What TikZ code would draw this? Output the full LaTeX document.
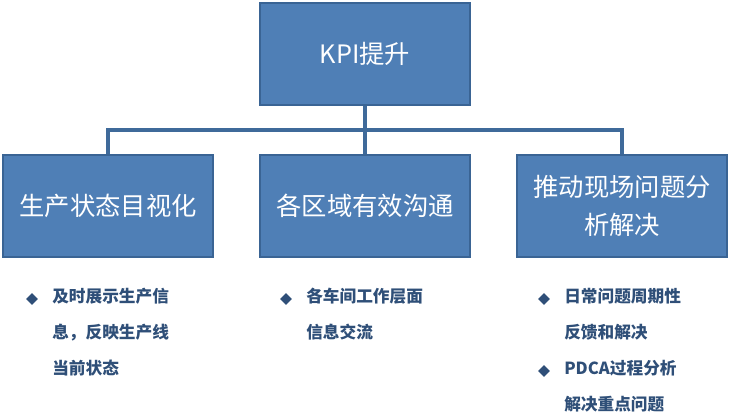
\documentclass[tikz,border=0pt]{standalone}
\usepackage{fontspec}
\setmainfont{Noto Sans CJK SC}
\usetikzlibrary{positioning,shapes.geometric}
\definecolor{boxblue}{HTML}{4F7FB6}
\definecolor{boxedge}{HTML}{3A6494}
\definecolor{linkblue}{HTML}{3F6A9A}
\definecolor{textblue}{HTML}{2F4F78}
\tikzset{>=latex,
  kpibox/.style={draw=boxedge,line width=1pt,fill=boxblue,text=white,
    minimum width=157.5pt,minimum height=76.5pt,align=center,
    font=\fontsize{19}{28}\selectfont},
  link/.style={draw=linkblue,line width=3pt},
  dot/.style={diamond,fill=textblue,inner sep=0pt,minimum size=9pt},
  item/.style={anchor=north west,text=textblue,align=left,
    font=\bfseries\fontsize{12.5}{27}\selectfont,inner sep=0pt}}
\begin{document}
\begin{tikzpicture}[x=0.75pt,y=-0.75pt]
\useasboundingbox (0,0) rectangle (731,415);
\node[kpibox] (top) at (365,54) {KPI提升};
\node[kpibox] (v) at (108,206) {生产状态目视化};
\node[kpibox] (c) at (365,206) {各区域有效沟通};
\node[kpibox] (s) at (622,206) {推动现场问题分\\析解决};
\coordinate (j) at (365,130);
\draw[link] (top.south) -- (j);
\draw[link] (v.north) |- (j) -| (s.north);
\draw[link] (j) -- (c.north);
\node[dot] (d1) at (32,299) {};
\node[item] (t1) at (52,288) {及时展示生产信\\息，反映生产线\\当前状态};
\node[dot] (d2) at (286,299) {};
\node[item] (t2) at (306,288) {各车间工作层面\\信息交流};
\node[dot] (d3) at (544,299) {};
\node[item] (t3) at (564,288) {日常问题周期性\\反馈和解决};
\node[dot] (d4) at (544,371) {};
\node[item] (t4) at (564,360) {PDCA过程分析\\解决重点问题};
\end{tikzpicture}
\end{document}
